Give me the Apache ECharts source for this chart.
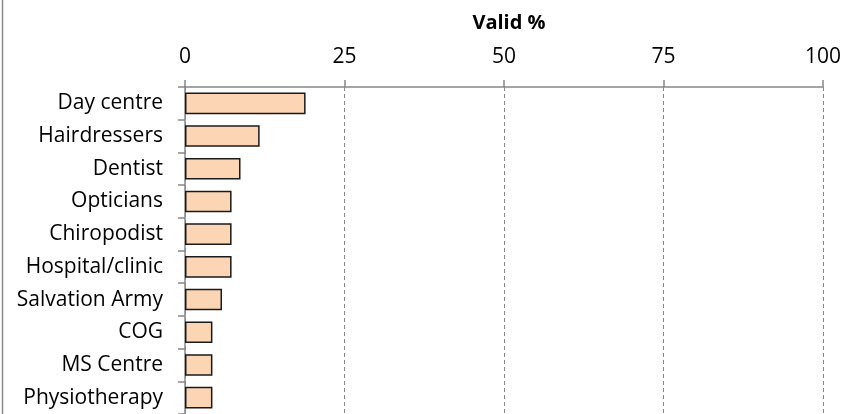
<!DOCTYPE html>
<html>
<head>
<meta charset="utf-8">
<script src="https://cdn.jsdelivr.net/npm/echarts@6/dist/echarts.min.js"></script>
<style>
html, body { margin: 0; padding: 0; background: #fff; }
#main { width: 849px; height: 414px; }
</style>
</head>
<body>
<div id="main"></div>
<script>
// services used, valid %
var categories = ['Day centre', 'Hairdressers', 'Dentist', 'Opticians', 'Chiropodist',
    'Hospital/clinic', 'Salvation Army', 'COG', 'MS Centre', 'Physiotherapy'];
var validPct = [18.9, 11.7, 8.7, 7.3, 7.3, 7.3, 5.8, 4.3, 4.3, 4.3];
var xTicks = [0, 25, 50, 75, 100];

var myChart = echarts.init(document.getElementById('main'));
var option = {
    animation: false,
    title: {
        text: 'Valid %',
        left: 504,
        textAlign: 'center',
        top: 8,
        textStyle: { fontFamily: 'Open Sans', fontSize: 20, fontWeight: 'bold', color: '#000' }
    },
    graphic: [{
        type: 'line',
        shape: { x1: 2.5, y1: 0, x2: 2.5, y2: 414 },
        style: { stroke: '#888', lineWidth: 1.5 }
    }],
    grid: { left: 185, right: 26, top: 87, bottom: -3 },
    xAxis: {
        type: 'value',
        position: 'top',
        min: xTicks[0],
        max: xTicks[xTicks.length - 1],
        interval: 25,
        axisLine: { show: true, lineStyle: { color: '#888', width: 1.5 } },
        axisTick: { show: true, length: 7, lineStyle: { color: '#888', width: 1.5 } },
        axisLabel: { fontFamily: 'Open Sans', fontSize: 21, color: '#000', margin: 19 },
        splitLine: { show: true, lineStyle: { color: '#888', type: [4, 3], width: 1 } }
    },
    yAxis: {
        type: 'category',
        inverse: true,
        data: categories,
        axisLine: { show: true, lineStyle: { color: '#888', width: 1.5 } },
        axisTick: { show: true, length: 7, lineStyle: { color: '#888', width: 1.5 } },
        axisLabel: { fontFamily: 'Open Sans', fontSize: 21, color: '#000', margin: 22 },
        splitLine: { show: false }
    },
    series: [{
        name: 'Valid %',
        type: 'bar',
        data: validPct,
        barCategoryGap: '34%',
        itemStyle: { color: '#FCD5B5', borderColor: '#1a1a1a', borderWidth: 1.5 }
    }]
};
myChart.setOption(option);
</script>
</body>
</html>
